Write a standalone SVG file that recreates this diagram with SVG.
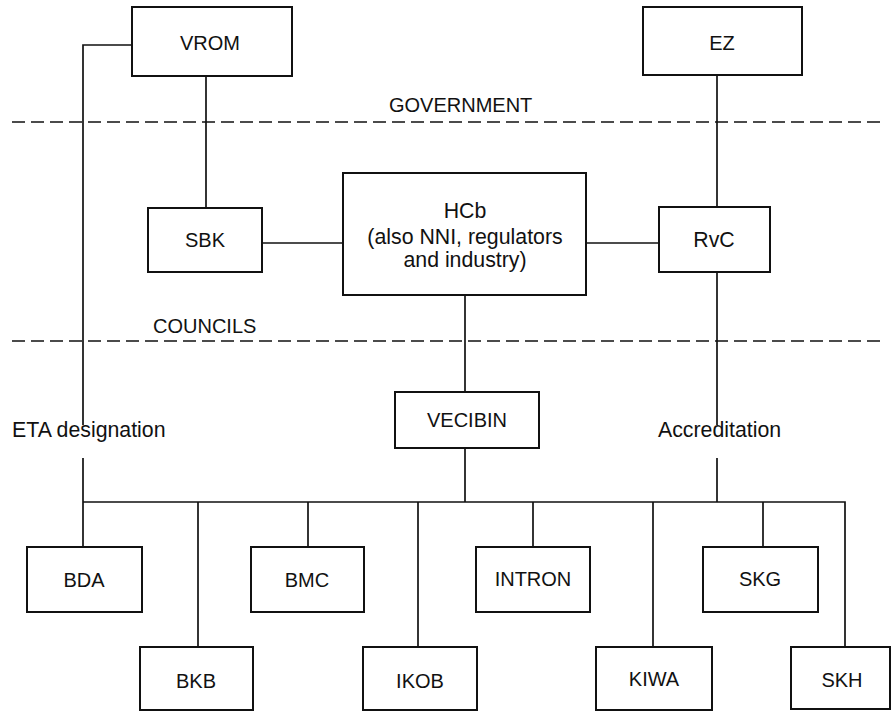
<svg xmlns="http://www.w3.org/2000/svg" width="892" height="711" viewBox="0 0 892 711">
<style>
.box{fill:#fff;stroke:#111;stroke-width:2}
.ln{fill:none;stroke:#111;stroke-width:1.7}
.dash{fill:none;stroke:#111;stroke-width:1.7;stroke-dasharray:13 6}
text{font-family:"Liberation Sans",Arial,sans-serif;font-size:20px;fill:#111}
.m{font-size:21.3px}
.c{text-anchor:middle}
</style>
<rect width="892" height="711" fill="#fff"/>
<g id="separators">
<line class="dash" x1="12" y1="122" x2="882" y2="122"/>
<text x="389" y="112">GOVERNMENT</text>
<line class="dash" x1="12" y1="341" x2="882" y2="341"/>
<text x="153" y="333" font-size="20.6">COUNCILS</text>
</g>
<g id="connectors">
<polyline class="ln" points="132,45 83,45 83,425"/>
<polyline class="ln" points="83,458 83,547"/>
<line class="ln" x1="206" y1="76" x2="206" y2="208"/>
<line class="ln" x1="717" y1="75" x2="717" y2="207"/>
<line class="ln" x1="262" y1="243" x2="343" y2="243"/>
<line class="ln" x1="586" y1="243" x2="659" y2="243"/>
<line class="ln" x1="465" y1="295" x2="465" y2="392"/>
<line class="ln" x1="465" y1="448" x2="465" y2="502"/>
<line class="ln" x1="717" y1="272" x2="717" y2="425"/>
<line class="ln" x1="717" y1="458" x2="717" y2="502"/>
<polyline class="ln" points="83,502 845,502 845,647"/>
<line class="ln" x1="198" y1="502" x2="198" y2="647"/>
<line class="ln" x1="308" y1="502" x2="308" y2="547"/>
<line class="ln" x1="418" y1="502" x2="418" y2="647"/>
<line class="ln" x1="533" y1="502" x2="533" y2="547"/>
<line class="ln" x1="653" y1="502" x2="653" y2="647"/>
<line class="ln" x1="763" y1="502" x2="763" y2="547"/>
<text class="m" x="12" y="437">ETA designation</text>
<text class="m" x="658" y="437">Accreditation</text>
</g>
<g id="VROM"><rect class="box" x="132" y="7" width="160" height="69"/><text class="c" x="210" y="50">VROM</text></g>
<g id="EZ"><rect class="box" x="643" y="7" width="159" height="68"/><text class="c" x="722" y="50">EZ</text></g>
<g id="SBK"><rect class="box" x="148" y="208" width="114" height="64"/><text class="c" x="205" y="247">SBK</text></g>
<g id="HCb"><rect class="box" x="343" y="173" width="243" height="122"/>
<text class="c m" x="465" y="218">HCb</text>
<text class="c m" x="465" y="244">(also NNI, regulators</text>
<text class="c m" x="465" y="267">and industry)</text></g>
<g id="RvC"><rect class="box" x="659" y="207" width="111" height="65"/><text class="c m" x="714" y="247">RvC</text></g>
<g id="VECIBIN"><rect class="box" x="395" y="392" width="144" height="56"/><text class="c" x="467" y="427">VECIBIN</text></g>
<g id="BDA"><rect class="box" x="27" y="547" width="115" height="65"/><text class="c" x="84" y="587">BDA</text></g>
<g id="BMC"><rect class="box" x="251" y="547" width="113" height="65"/><text class="c" x="307" y="587">BMC</text></g>
<g id="INTRON"><rect class="box" x="476" y="547" width="114" height="65"/><text class="c" x="533" y="586">INTRON</text></g>
<g id="SKG"><rect class="box" x="703" y="547" width="115" height="65"/><text class="c" x="760" y="586">SKG</text></g>
<g id="BKB"><rect class="box" x="140" y="647" width="113" height="63"/><text class="c" x="196" y="688">BKB</text></g>
<g id="IKOB"><rect class="box" x="363" y="647" width="114" height="63"/><text class="c" x="420" y="688">IKOB</text></g>
<g id="KIWA"><rect class="box" x="596" y="647" width="116" height="63"/><text class="c" x="654" y="686">KIWA</text></g>
<g id="SKH"><rect class="box" x="791" y="647" width="99" height="62"/><text class="c" x="842" y="687">SKH</text></g>
</svg>
